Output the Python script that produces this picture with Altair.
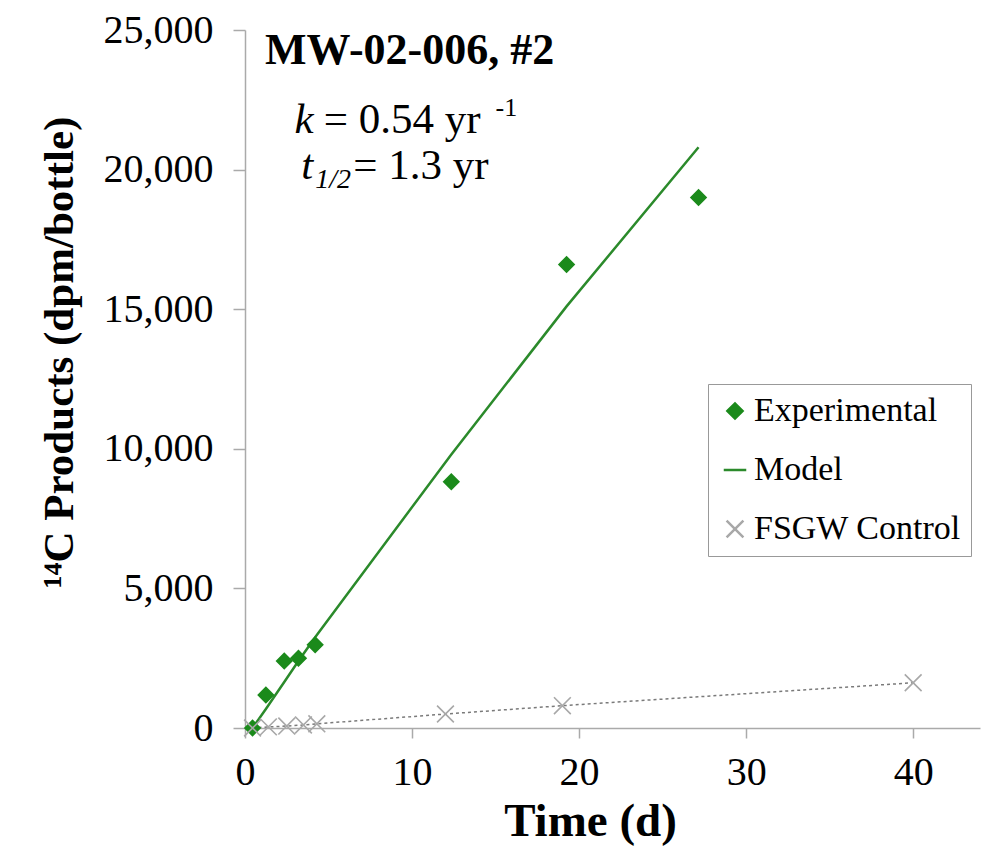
import altair as alt
import pandas as pd

# ---- data ----
exp_t = [0.45, 1.25, 2.35, 3.2, 4.2, 12.35, 19.25, 27.15]
exp_y = [0, 1180, 2400, 2500, 2980, 8820, 16600, 19000]

model_t = [0.45, 1.25, 2.35, 3.2, 4.2, 12.35, 19.25, 27.15]
model_y = [0, 680, 1650, 2400, 3250, 9800, 15100, 20800]

ctrl_t = [0.45, 1.4, 2.5, 3.5, 4.3, 12.0, 19.0, 40.0]
ctrl_y = [0, 40, 70, 110, 150, 500, 800, 1620]

series_names = ["Experimental", "Model", "FSGW Control"]

x_ticks = [0, 10, 20, 30, 40]
y_ticks = [0, 5000, 10000, 15000, 20000, 25000]

ann_bold_text = ["MW-02-006, #2"]
ann_bold_x = [1.2]
ann_bold_y = [24230]

ann_reg_text = ["= 0.54 yr", "= 1.3 yr"]
ann_reg_x = [4.72, 6.48]
ann_reg_y = [21790, 20140]

ann_ital_text = ["k", "t"]
ann_ital_x = [4.1, 4.08]
ann_ital_y = [21790, 20140]

ann_sup_text = ["-1"]
ann_sup_x = [15.0]
ann_sup_y = [22190]

ann_sub_text = ["1/2"]
ann_sub_x = [4.2]
ann_sub_y = [19620]

GREEN = "#1b8a1b"
LINE_GREEN = "#2b8a2b"
GRAY = "#a8a8a8"
FONT = "Liberation Serif"

pts = pd.DataFrame(
    {"t": exp_t + ctrl_t,
     "y": exp_y + ctrl_y,
     "series": ["Experimental"] * len(exp_t) + ["FSGW Control"] * len(ctrl_t)}
)
model_df = pd.DataFrame({"t": model_t, "y": model_y})
ctrl_df = pd.DataFrame({"t": ctrl_t, "y": ctrl_y})

xscale = alt.Scale(domain=[0, 44], nice=False, zero=True)
yscale = alt.Scale(domain=[0, 25000], nice=False)

xaxis = alt.Axis(
    values=x_ticks, title="Time (d)", grid=False,
    labelFont=FONT, labelFontSize=40, labelColor="black", labelPadding=14,
    titleFont=FONT, titleFontSize=47, titleFontWeight="bold", titleColor="black",
    titlePadding=6, titleX=345, tickSize=10, tickColor="#aaaaaa", domainColor="#aaaaaa",
    domainWidth=1.5, tickWidth=1.5, labelFlush=False,
)
yaxis = alt.Axis(
    values=y_ticks, format=",d",
    title="¹⁴C Products (dpm/bottle)", grid=False,
    labelFont=FONT, labelFontSize=40, labelColor="black", labelPadding=20,
    titleFont=FONT, titleFontSize=43, titleFontWeight="bold", titleColor="black",
    titlePadding=22, titleY=322, tickSize=12, tickColor="#aaaaaa", domainColor="#aaaaaa",
    domainWidth=1.5, tickWidth=1.5, labelFlush=False,
)

X = alt.X("t:Q", scale=xscale, axis=xaxis)
Y = alt.Y("y:Q", scale=yscale, axis=yaxis)

model_line = alt.Chart(model_df).mark_line(color=LINE_GREEN, strokeWidth=2.5).encode(x=X, y=Y)
ctrl_line = alt.Chart(ctrl_df).mark_line(color="#7a7a7a", strokeWidth=1.5, strokeDash=[3, 3]).encode(x=X, y=Y)

xpath = "M-0.6,-0.6L0.6,0.6M-0.6,0.6L0.6,-0.6"
linepath = "M-1,0L1,0"
legend = alt.Legend(
    title=None, orient="none", legendX=463, legendY=354,
    labelFont=FONT, labelFontSize=34, labelColor="black", labelLimit=0,
    fillColor="white", strokeColor="#999999", padding=10,
    rowPadding=25, labelOffset=2, symbolStrokeWidth=2.5,
)
points = alt.Chart(pts).mark_point(filled=True, opacity=1, strokeWidth=1.6).encode(
    x=X, y=Y,
    fill=alt.Fill("series:N", scale=alt.Scale(domain=series_names, range=[GREEN, LINE_GREEN, GRAY]), legend=legend),
    stroke=alt.Stroke("series:N", scale=alt.Scale(domain=series_names, range=[GREEN, LINE_GREEN, GRAY]), legend=legend),
    shape=alt.Shape("series:N", scale=alt.Scale(domain=series_names, range=["diamond", linepath, xpath]), legend=legend),
    size=alt.Size("series:N", scale=alt.Scale(domain=series_names, range=[230, 784, 300]), legend=legend),
)


def text_layer(texts, xs, ys, size, weight="normal", style="normal", align="left"):
    df = pd.DataFrame({"t": xs, "y": ys, "label": texts})
    return alt.Chart(df).mark_text(
        font=FONT, fontSize=size, fontWeight=weight, fontStyle=style,
        align=align, baseline="middle", color="black",
    ).encode(x=alt.X("t:Q", scale=xscale), y=alt.Y("y:Q", scale=yscale), text="label:N")


texts = [
    text_layer(ann_bold_text, ann_bold_x, ann_bold_y, 44, weight="bold"),
    text_layer(ann_reg_text, ann_reg_x, ann_reg_y, 43),
    text_layer(ann_ital_text, ann_ital_x, ann_ital_y, 43, style="italic", align="right"),
    text_layer(ann_sup_text, ann_sup_x, ann_sup_y, 26),
    text_layer(ann_sub_text, ann_sub_x, ann_sub_y, 28, style="italic"),
]

chart = alt.layer(model_line, ctrl_line, points, *texts).properties(
    width=735, height=698,
    autosize=alt.AutoSizeParams(type="none"),
    padding={"left": 237, "top": 22, "right": 9, "bottom": 126},
    background="white",
).configure_view(stroke=None)

chart.save("out.html", embed_options={"renderer": "svg", "actions": False})
